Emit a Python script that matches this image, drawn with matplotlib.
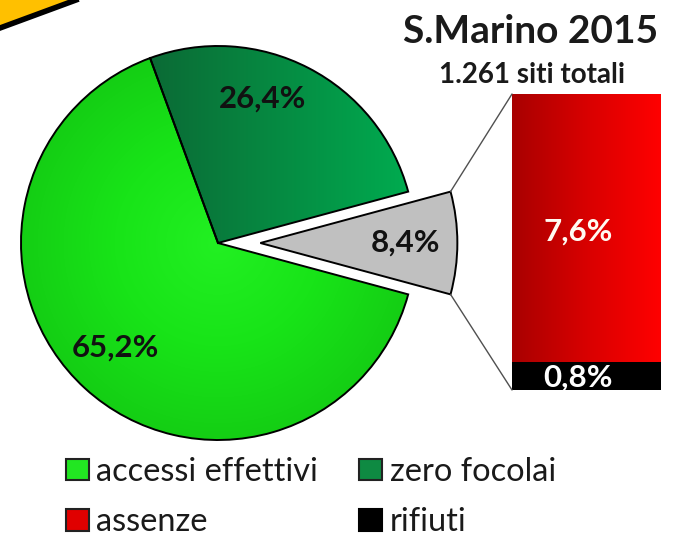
import numpy as np
import matplotlib
matplotlib.use("Agg")
import matplotlib.pyplot as plt
from matplotlib.patches import Patch, Polygon
from matplotlib.patches import ConnectionPatch
from matplotlib.colors import LinearSegmentedColormap

# ---- data ----
pie_labels = ["rifiuti+assenze", "zero focolai", "accessi effettivi"]
pie_values = [8.4, 26.4, 65.2]
pie_texts = ["8,4%", "26,4%", "65,2%"]
bar_labels = ["rifiuti", "assenze"]
bar_values = [0.8, 7.6]
bar_texts = ["0,8%", "7,6%"]
title = "S.Marino 2015"
subtitle = "1.261 siti totali"
legend_labels = ["accessi effettivi", "zero focolai", "assenze", "rifiuti"]

W, H = 673, 538
DPI = 100
FONT = "Lato"

fig = plt.figure(figsize=(W / DPI, H / DPI), dpi=DPI)
fig.patch.set_facecolor("white")

# pixel helpers (image coords, y down)
R = 197.0
CX, CY = 218.0, 243.0
def fx(px):
    return px / W
def fy(py):
    return 1 - py / H

ax = fig.add_axes([0, 0, 1, 1])
ax.set_xlim(-CX / R, (W - CX) / R)
ax.set_ylim(-(H - CY) / R, CY / R)
ax.set_aspect("equal")
ax.axis("off")

wedges, _ = ax.pie(pie_values, startangle=-pie_values[0] / 100 * 180,
                   counterclock=True, explode=[0.215, 0, 0],
                   colors=["#c0c0c0", "#0e8a42", "#22e622"],
                   wedgeprops=dict(edgecolor="black", linewidth=1.4),
                   radius=1.0, center=(0, 0))

# gradients
g_dg = LinearSegmentedColormap.from_list("dg", ["#0b6a35", "#00ad50"])
grad = np.linspace(0, 1, 256).reshape(1, -1)
im = ax.imshow(grad, cmap=g_dg, extent=(-0.35, 1.0, 0, 1.0), aspect="auto",
               zorder=wedges[1].get_zorder(), interpolation="bicubic")
im.set_clip_path(wedges[1])
g_g = LinearSegmentedColormap.from_list("gg", ["#22f022", "#18e418", "#14cc14"])
yy, xx = np.mgrid[-1:1:300j, -1:1:300j]
rr = np.sqrt(xx ** 2 + yy ** 2)
im2 = ax.imshow(rr, cmap=g_g, extent=(-1, 1, -1, 1), vmin=0, vmax=1.05,
                zorder=wedges[2].get_zorder(), interpolation="bicubic")
im2.set_clip_path(wedges[2])
for w in wedges:
    w.set_zorder(3)
    w.set_facecolor("none" if w is not wedges[0] else "#c0c0c0")
ax.set_xlim(-CX / R, (W - CX) / R)
ax.set_ylim(-(H - CY) / R, CY / R)

# pie labels (layout positions in px)
label_px = [(406, 243), (263, 99), (115, 348)]
for t, (px, py) in zip(pie_texts, label_px):
    ax.text((px - CX) / R, (CY - py) / R, t, ha="center", va="center",
            fontsize=22.5, fontweight="bold", family=FONT, color="#111111", zorder=5)

# bar of pie
BX0, BX1, BY0, BY1 = 512, 661, 94, 390
ax2 = fig.add_axes([fx(BX0), fy(BY1), (BX1 - BX0) / W, (BY1 - BY0) / H])
ax2.set_xlim(-0.5, 0.5)
ax2.set_ylim(0, sum(bar_values))
ax2.axis("off")
bottoms = np.cumsum([0] + bar_values[:-1])
bars = ax2.bar([0, 0], bar_values, bottom=bottoms, width=1.0,
               color=["black", "#e00000"], edgecolor="black", linewidth=1.0)
g_r = LinearSegmentedColormap.from_list("rr", ["#a80000", "#d80000", "#ff0000"])
im3 = ax2.imshow(grad, cmap=g_r, extent=(-0.5, 0.5, bottoms[1], bottoms[1] + bar_values[1]),
                 aspect="auto", zorder=bars[1].get_zorder() + 0.1, interpolation="bicubic")
im3.set_clip_path(bars[1])
ax2.set_xlim(-0.5, 0.5)
ax2.set_ylim(0, sum(bar_values))
bar_label_y = [bottoms[0] + bar_values[0] / 2 - 0.05, 4.5]
for b, t, ly, c in zip(bars, bar_texts, bar_label_y, ["white", "#fffaf2"]):
    ax2.text(b.get_x() + b.get_width() / 2 - 0.055, ly, t, ha="center", va="center",
             fontsize=22.5, fontweight="bold", family=FONT, color=c, zorder=6)

# connector lines
gw = wedges[0]
cx0, cy0 = gw.center
for th, yb in [(gw.theta2, sum(bar_values)), (gw.theta1, 0)]:
    xa = cx0 + gw.r * np.cos(np.radians(th))
    ya = cy0 + gw.r * np.sin(np.radians(th))
    con = ConnectionPatch(xyA=(xa, ya), coordsA=ax.transData,
                          xyB=(-0.5, yb), coordsB=ax2.transData,
                          color="#505050", linewidth=1.0)
    fig.add_artist(con)

# titles
fig.text(fx(531), fy(43), title, ha="center", va="baseline", fontsize=28,
         fontweight="bold", family=FONT, color="#1a1a1a")
fig.text(fx(532), fy(83), subtitle, ha="center", va="baseline", fontsize=20,
         fontweight="bold", family=FONT, color="#1a1a1a")

# legend
handles = [Patch(facecolor="#22e622", edgecolor="#222222", linewidth=1.5),
           Patch(facecolor="#e00000", edgecolor="#222222", linewidth=1.5),
           Patch(facecolor="#0e8a42", edgecolor="#222222", linewidth=1.5),
           Patch(facecolor="black", edgecolor="black", linewidth=1.5)]
labs = [legend_labels[0], legend_labels[2], legend_labels[1], legend_labels[3]]
leg = fig.legend(handles, labs, ncol=2, loc="upper left",
                 bbox_to_anchor=(fx(66), fy(457)), frameon=False,
                 prop=dict(family=FONT, size=23.4), handlelength=0.71,
                 handleheight=0.65, handletextpad=0.22, columnspacing=1.27,
                 labelspacing=0.62, borderpad=0.0, borderaxespad=0.0)
for t in leg.get_texts():
    t.set_color("#1a1a1a")

# banner in top-left corner
poly = Polygon([(0, 1), (0, fy(27)), (fx(76), 1)], closed=True,
               transform=fig.transFigure, facecolor="#ffc000", edgecolor="none")
fig.add_artist(poly)
fig.add_artist(plt.Line2D([0, fx(76)], [fy(28), 1], transform=fig.transFigure,
                          color="black", linewidth=4))

fig.savefig("out.png", dpi=DPI, facecolor="white")
